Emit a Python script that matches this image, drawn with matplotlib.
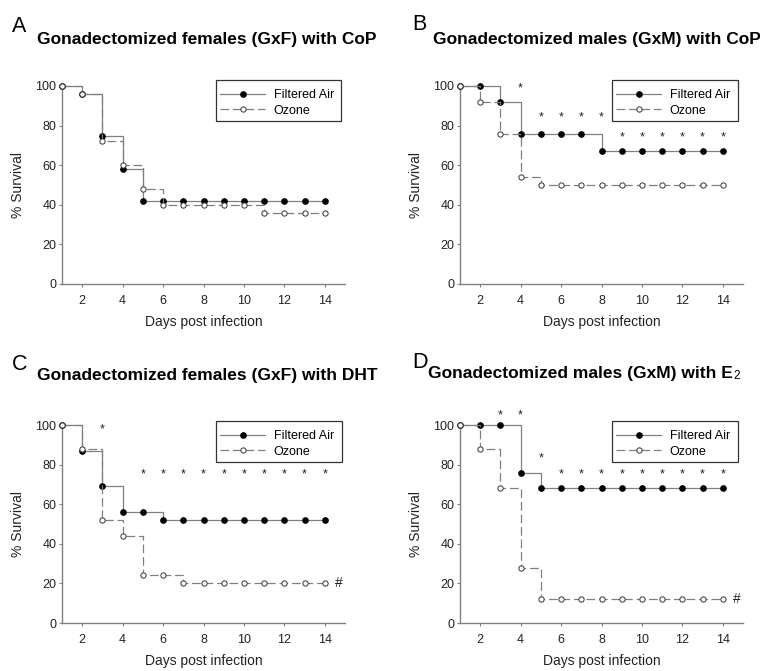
import numpy as np
import matplotlib.pyplot as plt
from matplotlib.patches import Rectangle

plt.rcParams['font.family'] = ['Liberation Sans', 'DejaVu Sans']

days = np.arange(1, 15)

# A: GxF with CoP
a_air = [100, 96, 75, 58, 42, 42, 42, 42, 42, 42, 42, 42, 42, 42]
a_ozone = [100, 96, 72, 60, 48, 40, 40, 40, 40, 40, 36, 36, 36, 36]
a_star_days = []
a_star_y = []

# B: GxM with CoP
b_air = [100, 100, 92, 76, 76, 76, 76, 67, 67, 67, 67, 67, 67, 67]
b_ozone = [100, 92, 76, 54, 50, 50, 50, 50, 50, 50, 50, 50, 50, 50]
b_star_days = [4, 5, 6, 7, 8, 9, 10, 11, 12, 13, 14]
b_star_y = [99, 84, 84, 84, 84, 74, 74, 74, 74, 74, 74]

# C: GxF with DHT
c_air = [100, 87, 69, 56, 56, 52, 52, 52, 52, 52, 52, 52, 52, 52]
c_ozone = [100, 88, 52, 44, 24, 24, 20, 20, 20, 20, 20, 20, 20, 20]
c_star_days = [3, 5, 6, 7, 8, 9, 10, 11, 12, 13, 14]
c_star_y = [98, 75, 75, 75, 75, 75, 75, 75, 75, 75, 75]

# D: GxM with E2
d_air = [100, 100, 100, 76, 68, 68, 68, 68, 68, 68, 68, 68, 68, 68]
d_ozone = [100, 88, 68, 28, 12, 12, 12, 12, 12, 12, 12, 12, 12, 12]
d_star_days = [3, 4, 5, 6, 7, 8, 9, 10, 11, 12, 13, 14]
d_star_y = [105, 105, 83, 75, 75, 75, 75, 75, 75, 75, 75, 75]

panels = [
    ('A', 'Gonadectomized females (GxF) with CoP', '', a_air, a_ozone, a_star_days, a_star_y, None),
    ('B', 'Gonadectomized males (GxM) with CoP', '', b_air, b_ozone, b_star_days, b_star_y, None),
    ('C', 'Gonadectomized females (GxF) with DHT', '', c_air, c_ozone, c_star_days, c_star_y, 20),
    ('D', 'Gonadectomized males (GxM) with E', '2', d_air, d_ozone, d_star_days, d_star_y, 12),
]

W, H = 760, 671
fig = plt.figure(figsize=(7.6, 6.71), dpi=100)
renderer = fig.canvas.get_renderer()

# pixel layout: axes (left, top), title (x, baseline), letter (x, baseline), legend box (l, t, r, b)
layout = [
    ((62, 86), (37, 44), (12, 32), (216, 80, 341, 121)),
    ((460, 86), (433, 44), (412, 30), (612, 80, 738, 121)),
    ((62, 425), (37, 380), (12, 370), (216, 421, 342, 462)),
    ((460, 425), (428, 378), (412, 368), (612, 421, 738, 462)),
]
aw, ah = 283, 198
gray = '#808080'

for (letter, title, sub, air, ozone, sdays, sy, hash_y), (axpos, tpos, lpos, lbox) in zip(panels, layout):
    x0, y0 = axpos
    ax = fig.add_axes([x0 / W, 1 - (y0 + ah) / H, aw / W, ah / H])

    ax.plot(days, air, drawstyle='steps-post', color=gray, lw=0.9,
            marker='o', ms=3.8, mfc='black', mec='black', clip_on=False, zorder=3,
            label='Filtered Air')
    ax.plot(days, ozone, drawstyle='steps-post', color=gray, lw=0.9, ls=(0, (7, 3)),
            marker='o', ms=3.8, mfc='white', mec='#333333', mew=0.7, clip_on=False, zorder=4,
            label='Ozone')

    for d, y in zip(sdays, sy):
        ax.text(d, y, '*', ha='center', va='center', fontsize=9, color='#222222')
    if hash_y is not None:
        ax.text(14.5, hash_y, '#', ha='left', va='center', fontsize=10, color='#222222')

    ax.set_xlim(1, 15)
    ax.set_ylim(0, 100)
    ax.set_xticks(range(2, 15, 2))
    ax.set_yticks(range(0, 101, 20))
    for s in ['top', 'right']:
        ax.spines[s].set_visible(False)
    for s in ['left', 'bottom']:
        ax.spines[s].set_color(gray)
        ax.spines[s].set_linewidth(1.0)
    ax.tick_params(axis='both', direction='out', length=2.5, color=gray,
                   labelsize=9, labelcolor='#222222')
    ax.tick_params(axis='x', pad=5.5)
    ax.tick_params(axis='y', pad=1.5)

    ax.set_xlabel('Days post infection', fontsize=10, color='#222222')
    ax.set_ylabel('% Survival', fontsize=10, color='#222222')
    ax.xaxis.set_label_coords(0.5, -0.155)
    ax.yaxis.set_label_coords(-0.13, 0.5)

    # legend box
    l, t, r, b = lbox
    bx0 = (l - x0) / aw
    by0 = (y0 + ah - b) / ah
    ax.add_patch(Rectangle((bx0, by0), (r - l) / aw, (b - t) / ah, transform=ax.transAxes,
                           fill=False, ec='#333333', lw=0.9, clip_on=False, zorder=5))
    ax.legend(loc='upper left', bbox_to_anchor=((l + 4 - x0) / aw, (y0 + ah - t - 9) / ah),
              frameon=False, fontsize=9, handlelength=3.6, handletextpad=0.7,
              labelspacing=0.3, borderpad=0, borderaxespad=0)

    ttl = fig.text(tpos[0] / W, 1 - tpos[1] / H, title, fontsize=12.5, fontweight='bold',
                   ha='left', va='baseline')
    if sub:
        bb = ttl.get_window_extent(renderer)
        fig.text((bb.x1 + 1) / W, 1 - (tpos[1] + 1) / H, sub, fontsize=8.5,
                 ha='left', va='baseline')
    fig.text(lpos[0] / W, 1 - lpos[1] / H, letter, fontsize=15.5, ha='left', va='baseline')

fig.savefig('out.png', dpi=100)
